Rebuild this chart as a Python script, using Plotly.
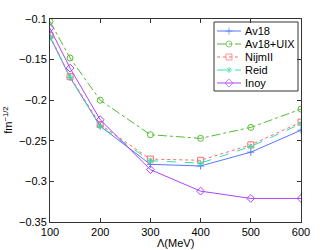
import plotly.graph_objects as go

lam = [100, 140, 200, 300, 400, 500, 600]
av18 = [-0.122, -0.172, -0.232, -0.279, -0.281, -0.264, -0.237]
av18uix = [-0.103, -0.148, -0.200, -0.2425, -0.247, -0.2335, -0.211]
nijm2 = [-0.1205, -0.171, -0.230, -0.2725, -0.274, -0.255, -0.227]
reid = [-0.122, -0.172, -0.232, -0.2745, -0.2775, -0.257, -0.229]
inoy = [-0.1115, -0.1605, -0.224, -0.2855, -0.312, -0.321, -0.321]
names = ["Av18", "Av18+UIX", "NijmII", "Reid", "Inoy"]

styles = [
    ("#5577ff", "solid", "cross-thin-open", 5),
    ("#55bb33", "dashdot", "circle-open", 6),
    ("#ff6a6a", "dot", "square-open", 6),
    ("#33e0a8", "dash", "asterisk-open", 5),
    ("#aa44ff", "solid", "diamond-open", 6),
]

W, H = 332, 250
L, R, T, B = 50, 31, 19, 28
FONT = "Liberation Sans, Arial"

fig = go.Figure()
for name, ys, (col, dash, sym, sz) in zip(names, [av18, av18uix, nijm2, reid, inoy], styles):
    fig.add_trace(go.Scatter(
        x=lam, y=ys, name=name, mode="lines+markers", showlegend=False,
        line=dict(color=col, width=1, dash=dash),
        marker=dict(symbol=sym, size=sz, color=col, line=dict(color=col, width=1)),
    ))

# compact legend drawn on an overlay axis measured in pixels
box_x0, box_x1, box_y0, box_y1 = 214, 298, 22, 91
row0, row_step = 31, 13
sx0, sx1, tx = 217, 241, 243
shapes = [dict(type="rect", xref="x2", yref="y2", x0=box_x0, x1=box_x1, y0=box_y0, y1=box_y1,
               line=dict(color="#333", width=1), fillcolor="white", layer="below")]
annotations = []
for i, (name, (col, dash, sym, sz)) in enumerate(zip(names, styles)):
    yy = row0 + i * row_step
    fig.add_trace(go.Scatter(
        x=[sx0, (sx0 + sx1) / 2, sx1], y=[yy, yy, yy], xaxis="x2", yaxis="y2",
        mode="lines+markers", showlegend=False, hoverinfo="skip",
        line=dict(color=col, width=1, dash=dash),
        marker=dict(symbol=sym, size=[0, sz, 0], color=col, line=dict(color=col, width=1)),
    ))
    annotations.append(dict(xref="x2", yref="y2", x=tx, y=yy, text=name, showarrow=False,
                            xanchor="left", yanchor="middle",
                            font=dict(family=FONT, size=11, color="#000")))

annotations.append(dict(xref="paper", yref="paper", x=-0.17, y=0.5, xanchor="center", yanchor="middle",
                        text="fm<sup>−1/2</sup>", textangle=-90, showarrow=False,
                        font=dict(family=FONT, size=11, color="#000")))
annotations.append(dict(xref="paper", yref="paper", x=0.5, y=-0.105, xanchor="center", yanchor="middle",
                        text="Λ(MeV)", showarrow=False,
                        font=dict(family=FONT, size=11, color="#000")))

axis_common = dict(
    showgrid=False, zeroline=False, showline=True, linecolor="#333", linewidth=1,
    mirror="ticks", ticks="inside", ticklen=4, tickcolor="#333", automargin=False,
    tickfont=dict(family=FONT, size=11, color="#000"),
)
fig.update_layout(
    width=W, height=H,
    margin=dict(l=L, r=R, t=T, b=B),
    paper_bgcolor="white", plot_bgcolor="white",
    font=dict(family=FONT, size=11, color="#000"),
    xaxis=dict(range=[100, 600], tickvals=[100, 200, 300, 400, 500, 600], **axis_common),
    yaxis=dict(range=[-0.35, -0.1], tickvals=[-0.35, -0.3, -0.25, -0.2, -0.15, -0.1],
               ticktext=["−0.35", "−0.3", "−0.25", "−0.2", "−0.15", "−0.1"], **axis_common),
    xaxis2=dict(overlaying="x", range=[L, W - R], visible=False, fixedrange=True),
    yaxis2=dict(overlaying="y", range=[H - B, T], visible=False, fixedrange=True),
    shapes=shapes, annotations=annotations,
    showlegend=False,
)
fig.write_html("out.html", config={"displayModeBar": False},
               post_script="document.body.style.margin='0';")
